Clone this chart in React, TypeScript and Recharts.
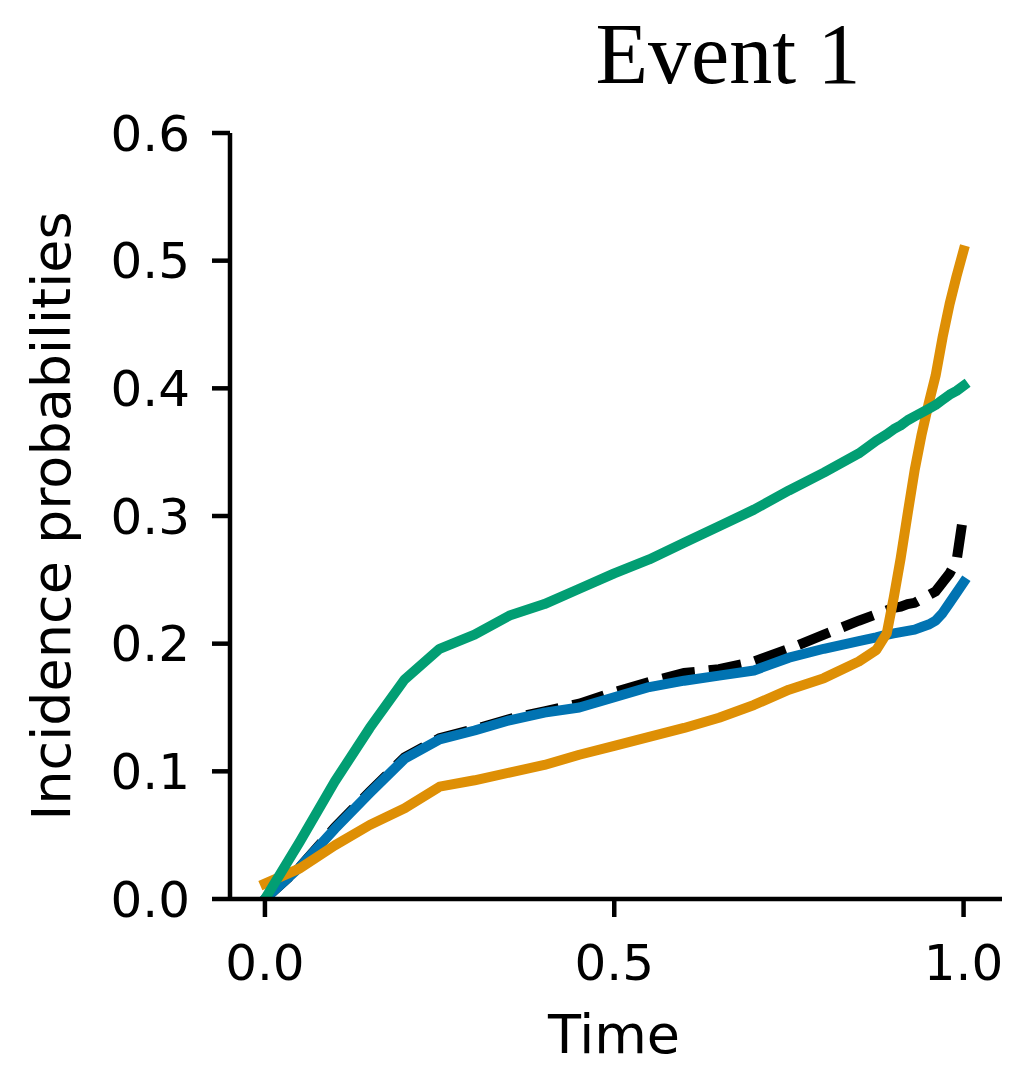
import React from "react";
import { LineChart, Line, XAxis, YAxis } from "recharts";

const times = [
  0, 0.05, 0.1, 0.15, 0.2, 0.25, 0.3, 0.35, 0.4, 0.45, 0.5, 0.55, 0.6, 0.65, 0.7, 0.75, 0.8, 0.85,
  0.875, 0.89, 0.9, 0.91, 0.92, 0.93, 0.94, 0.95, 0.96, 0.97, 0.98, 0.99, 1.0,
];

const trueCurve = [
  0, 0.025, 0.056, 0.084, 0.111, 0.126, 0.133, 0.141, 0.147, 0.153, 0.162, 0.17, 0.177, 0.18, 0.186, 0.196, 0.207, 0.218,
  0.223, 0.226, 0.228, 0.229, 0.231, 0.232, 0.235, 0.238, 0.241, 0.248, 0.255, 0.265, 0.302,
];

const blueCurve = [
  0, 0.025, 0.055, 0.083, 0.11, 0.125, 0.132, 0.14, 0.146, 0.15, 0.158, 0.166, 0.171, 0.175, 0.179, 0.189, 0.196, 0.202,
  0.205, 0.207, 0.208, 0.209, 0.21, 0.211, 0.213, 0.215, 0.218, 0.224, 0.232, 0.24, 0.248,
];

const orangeCurve = [
  0.012, 0.024, 0.042, 0.058, 0.071, 0.088, 0.093, 0.099, 0.105, 0.113, 0.12, 0.127, 0.134, 0.142, 0.152, 0.164, 0.173, 0.186,
  0.195, 0.208, 0.236, 0.267, 0.302, 0.336, 0.364, 0.388, 0.41, 0.44, 0.466, 0.488, 0.508,
];

const greenCurve = [
  0, 0.045, 0.092, 0.134, 0.172, 0.196, 0.207, 0.222, 0.231, 0.243, 0.255, 0.266, 0.279, 0.292, 0.305, 0.32, 0.334, 0.349,
  0.359, 0.364, 0.368, 0.371, 0.375, 0.378, 0.381, 0.384, 0.387, 0.391, 0.395, 0.398, 0.402,
];

const xTicks = [0, 0.5, 1.0];
const yTicks = [0, 0.1, 0.2, 0.3, 0.4, 0.5, 0.6];

const titleText = "Event 1";
const xLabel = "Time";
const yLabel = "Incidence probabilities";

const data = times.map((t, i) => ({
  t,
  truth: trueCurve[i],
  blue: blueCurve[i],
  orange: orangeCurve[i],
  green: greenCurve[i],
}));

const W = 1016;
const H = 1066;
const sans = "'DejaVu Sans', sans-serif";
const tickStyle = { fontSize: 50, fill: "#000", fontFamily: sans };
const LW = 10;
const AW = 4.5;

export default function App() {
  return (
    <div style={{ position: "absolute", left: 0, top: 0, width: W, height: H, background: "#fff" }}>
      <LineChart
        width={W}
        height={H}
        data={data}
        margin={{ top: 133, right: 14, bottom: 0, left: 0 }}
      >
        <XAxis
          dataKey="t"
          type="number"
          domain={[-0.05, 1.055]}
          ticks={xTicks}
          allowDataOverflow
          height={167}
          tickFormatter={(v: number) => v.toFixed(1)}
          tick={tickStyle}
          tickSize={18}
          tickMargin={27}
          axisLine={{ stroke: "#000", strokeWidth: AW, style: { strokeWidth: AW } }}
          tickLine={{ stroke: "#000", strokeWidth: AW, style: { strokeWidth: AW } }}
        />
        <YAxis
          type="number"
          domain={[0, 0.6]}
          ticks={yTicks}
          allowDataOverflow
          width={230}
          tickFormatter={(v: number) => v.toFixed(1)}
          tick={tickStyle}
          tickSize={18}
          tickMargin={22}
          axisLine={{ stroke: "#000", strokeWidth: AW, style: { strokeWidth: AW } }}
          tickLine={{ stroke: "#000", strokeWidth: AW, style: { strokeWidth: AW } }}
        />
        <Line
          dataKey="truth"
          type="linear"
          stroke="#000000"
          strokeWidth={LW}
          style={{ strokeWidth: LW }}
          strokeDasharray="33 14"
          strokeLinecap="butt"
          dot={false}
          activeDot={false}
          isAnimationActive={false}
        />
        <Line
          dataKey="blue"
          type="linear"
          stroke="#0173B2"
          strokeWidth={LW}
          style={{ strokeWidth: LW }}
          strokeLinecap="square"
          strokeLinejoin="round"
          dot={false}
          activeDot={false}
          isAnimationActive={false}
        />
        <Line
          dataKey="orange"
          type="linear"
          stroke="#DE8F05"
          strokeWidth={LW}
          style={{ strokeWidth: LW }}
          strokeLinecap="square"
          strokeLinejoin="round"
          dot={false}
          activeDot={false}
          isAnimationActive={false}
        />
        <Line
          dataKey="green"
          type="linear"
          stroke="#029E73"
          strokeWidth={LW}
          style={{ strokeWidth: LW }}
          strokeLinecap="square"
          strokeLinejoin="round"
          dot={false}
          activeDot={false}
          isAnimationActive={false}
        />
      </LineChart>
      <svg
        width={W}
        height={H}
        style={{ position: "absolute", left: 0, top: 0, pointerEvents: "none" }}
      >
        <text
          x={728}
          y={83}
          textAnchor="middle"
          fontSize={86}
          fontFamily="'Liberation Serif', 'Times New Roman', serif"
          fill="#000"
        >
          {titleText}
        </text>
        <text x={614} y={1053} textAnchor="middle" fontSize={54} fontFamily={sans} fill="#000">
          {xLabel}
        </text>
        <text
          x={70}
          y={516}
          textAnchor="middle"
          fontSize={54}
          fontFamily={sans}
          fill="#000"
          transform="rotate(-90 70 516)"
        >
          {yLabel}
        </text>
      </svg>
    </div>
  );
}
